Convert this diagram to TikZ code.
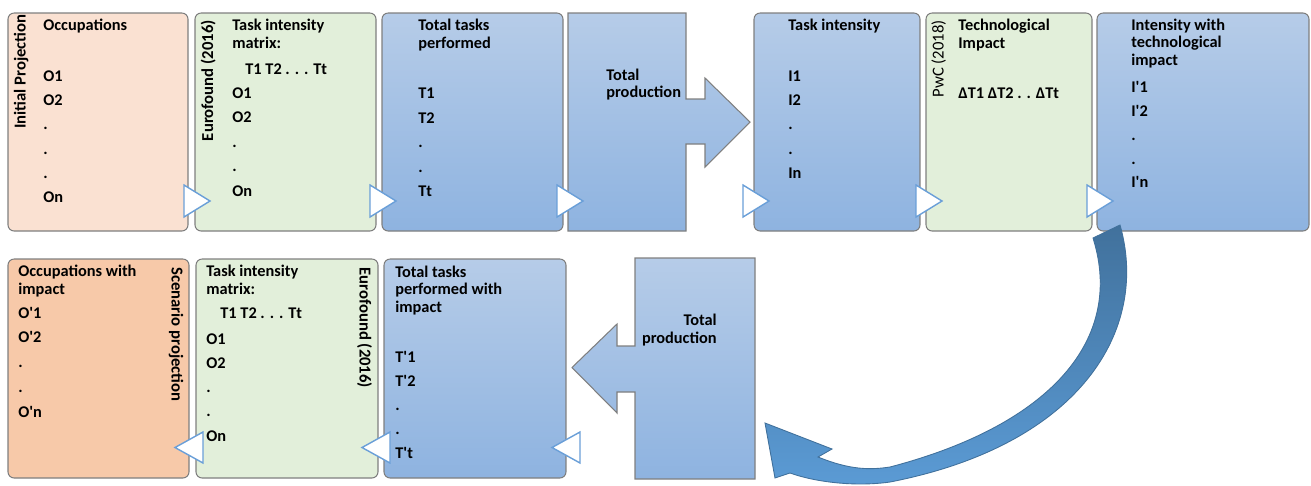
\documentclass[tikz,border=0pt]{standalone}
\usepackage{fontspec}
\setmainfont{Carlito}

\definecolor{peachLight}{HTML}{FAE1D2}
\definecolor{peachDark}{HTML}{F7C9A9}
\definecolor{paleGreen}{HTML}{E2EFDA}
\definecolor{blueTop}{HTML}{B6CCE8}
\definecolor{blueBot}{HTML}{8EB3E0}
\definecolor{edgeGray}{HTML}{7F7F7F}
\definecolor{markBlue}{HTML}{6A9FD8}
\definecolor{arcTop}{HTML}{41719C}
\definecolor{arcBot}{HTML}{5B9BD5}

\begin{document}
\begin{tikzpicture}[
    x=0.02cm, y=-0.02cm,
    box_style/.style={draw=edgeGray, line width=0.6pt, rounded corners=3.5pt},
    peach_box/.style={box_style, fill=peachLight},
    scen_box/.style={box_style, fill=peachDark},
    green_box/.style={box_style, fill=paleGreen},
    blue_box/.style={box_style, top color=blueTop, bottom color=blueBot},
    prod_box/.style={draw=edgeGray, line width=0.6pt, top color=blueTop, bottom color=blueBot},
    mark_style/.style={draw=markBlue, fill=white, line width=0.8pt},
    txt_style/.style={inner sep=0, anchor=base west, align=left, font=\bfseries\fontsize{9.3}{9.9}\selectfont},
    side_style/.style={inner sep=0, font=\bfseries\fontsize{9.5}{9.9}\selectfont}
]

    % --- 绘制宏 ---
    \newcommand{\rmark}[1]{
        \draw[mark_style] (#1,185) -- (#1+26,201) -- (#1,217) -- cycle;
    }
    \newcommand{\lmark}[1]{
        \draw[mark_style] (#1,432) -- (#1-28,447.5) -- (#1,463) -- cycle;
    }
    \newcommand{\itemlist}[5]{
        \foreach \txt [count=\i] in {#4} {
            \node[txt_style] (#1-\i) at (#2, #3+#5*\i-#5) {\txt};
        }
    }
    \newcommand{\pr}{\textquotesingle}

    \useasboundingbox (0,0) rectangle (1311,485);

    % --- 上排 ---
    \draw[peach_box] (8,13) rectangle (188,231);
    \draw[green_box] (195,13) rectangle (376,231);
    \draw[blue_box] (382,13) rectangle (563,231);
    \draw[prod_box] (568,13) -- (686,13) -- (686,99) -- (705,99) -- (705,78) -- (750,122)
        -- (705,167) -- (705,144) -- (686,144) -- (686,231) -- (568,231) -- cycle;
    \draw[blue_box] (754,13) rectangle (920,231);
    \draw[green_box] (926,13) rectangle (1092,231);
    \draw[blue_box] (1097,13) rectangle (1309,231);

    % 1. Initial Projection
    \node[side_style, rotate=90, anchor=base east] (initproj) at (25.5,14) {Initial Projection};
    \node[txt_style] (occ) at (43,30) {Occupations};
    \itemlist{occ}{43}{81.5}{O1,O2,.,.,.,On}{24.2}

    % 2. Eurofound
    \node[side_style, rotate=90, anchor=base east] (euro) at (213,20) {Eurofound (2016)};
    \node[txt_style] (tim) at (232,48) {Task intensity\\matrix:};
    \node[txt_style] (tim-t) at (245,74) {T1 T2 . . . Tt};
    \itemlist{tim}{232}{98.3}{O1,O2,.,.,On}{24.5}

    % 3. Total tasks
    \node[txt_style] (ttp) at (418,48) {Total tasks\\performed};
    \itemlist{ttp}{418}{98.7}{T1,T2,.,.,Tt}{24.5}

    % 4. Total production
    \node[txt_style] (prod) at (606,97.7) {Total\\production};

    % 5. Task intensity
    \node[txt_style] (ti) at (788,30) {Task intensity};
    \itemlist{ti}{788}{81.7}{I1,I2,.,.,In}{24.1}

    % 6. PwC
    \node[side_style, font=\fontsize{9.5}{9.9}\selectfont, rotate=90, anchor=base east] (pwc) at (943.5,20) {PwC (2018)};
    \node[txt_style] (tech) at (958,48) {Technological\\Impact};
    \node[txt_style] (tech-d) at (958,98) {ΔT1 ΔT2 . . ΔTt};

    % 7. Intensity with impact
    \node[txt_style] (iti) at (1131,65) {Intensity with\\technological\\impact};
    \itemlist{iti}{1131}{92.7}{I\pr1,I\pr2,.,.,I\pr n}{23.8}

    % --- 下排 ---
    \draw[scen_box] (8,259) rectangle (189,478);
    \draw[green_box] (196,259) rectangle (378,478);
    \draw[blue_box] (384,259) rectangle (566,478);
    \draw[prod_box] (635,258) -- (755,258) -- (755,479) -- (635,479) -- (635,392) -- (617,392)
        -- (617,413) -- (572,367.5) -- (617,324) -- (617,346) -- (635,346) -- cycle;

    % 1. Scenario projection
    \node[side_style, rotate=-90, anchor=base west] (scen) at (171.5,267) {Scenario projection};
    \node[txt_style] (owi) at (18,294) {Occupations with\\impact};
    \itemlist{owi}{18}{318}{O\pr1,O\pr2,.,.,O\pr n}{24.75}

    % 2. Eurofound
    \node[side_style, rotate=-90, anchor=base west] (euro2) at (359.5,267) {Eurofound (2016)};
    \node[txt_style] (tim2) at (206,294) {Task intensity\\matrix:};
    \node[txt_style] (tim2-t) at (220,318) {T1 T2 . . . Tt};
    \itemlist{tim2}{206}{344}{O1,O2,.,.,On}{24.25}

    % 3. Total tasks with impact
    \node[txt_style] (ttw) at (395,312) {Total tasks\\performed with\\impact};
    \itemlist{ttw}{395}{362}{T\pr1,T\pr2,.,.,T\pr t}{24}

    % 4. Total production
    \node[txt_style, align=right, anchor=base east] (prod2) at (717,343) {Total\\production};

    % --- 小三角 ---
    \foreach \bx in {184,370,557,743,916,1087} { \rmark{\bx} }
    \foreach \bx in {203,390,580} { \lmark{\bx} }

    % --- 弯箭头 ---
    \draw[draw=arcTop, line width=0.5pt, top color=arcTop, bottom color=arcBot]
        (1120,225) .. controls (1150,330) and (1080,445) .. (890,482)
        .. controls (855,487) and (815,482) .. (790,473) -- (775,478) -- (765,423)
        -- (832,449) -- (818,457) .. controls (850,470) and (870,470) .. (890,467)
        .. controls (1050,425) and (1125,340) .. (1093,238) -- cycle;

\end{tikzpicture}
\end{document}
